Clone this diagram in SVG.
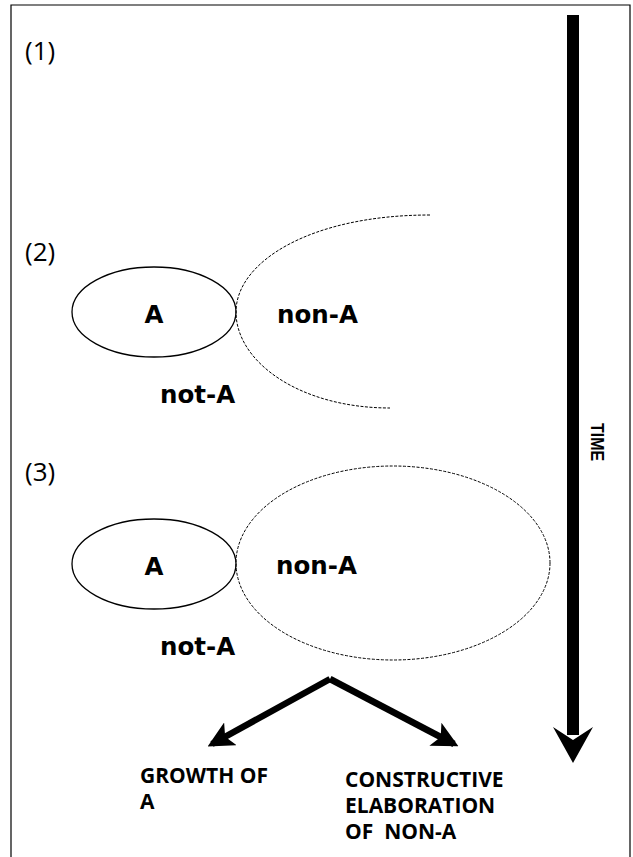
<svg xmlns="http://www.w3.org/2000/svg" width="633" height="857" viewBox="0 0 633 857">
  <style>
    .frame { fill: none; stroke: #000; stroke-width: 1.2; }
    .solid { fill: none; stroke: #000; stroke-width: 1.3; }
    .dashed { fill: none; stroke: #000; stroke-width: 1; stroke-dasharray: 3 1.5; }
    .step { font-family: "Open Sans", "Liberation Sans", sans-serif; font-size: 26px; fill: #000; }
    .lbl { font-family: "DejaVu Sans", "Liberation Sans", sans-serif; font-weight: bold; font-size: 24.5px; fill: #000; }
    .out { font-family: "Open Sans", "Liberation Sans", sans-serif; font-weight: bold; font-size: 21px; fill: #000; }
    .time { font-family: "Liberation Sans", "DejaVu Sans", sans-serif; font-weight: bold; font-size: 19px; fill: #000; }
    .thick { fill: none; stroke: #000; stroke-width: 6.5; stroke-linejoin: miter; }
  </style>
  <defs>
    <marker id="head" viewBox="0 0 26 26" refX="21" refY="13" markerWidth="26" markerHeight="26" markerUnits="userSpaceOnUse" orient="auto">
      <path d="M0,0 L26,13 L0,26 L6,13 Z" fill="#000"/>
    </marker>
  </defs>

  <rect width="633" height="857" fill="#fff"/>
  <!-- outer frame, open at the bottom -->
  <path class="frame" d="M11,857 V5 H630 V857"/>

  <!-- stage numbers -->
  <g id="stage1"><text class="step" x="25" y="60">(1)</text></g>
  <g id="stage2-label"><text class="step" x="25" y="261">(2)</text></g>
  <g id="stage3-label"><text class="step" x="25" y="481">(3)</text></g>

  <!-- stage 2 -->
  <g id="a2">
    <ellipse class="solid" cx="154" cy="312" rx="82" ry="45"/>
    <text class="lbl" x="154" y="323" text-anchor="middle">A</text>
  </g>
  <g id="nona2">
    <path class="dashed" d="M430,215 C310,215 236,262 236,312 C236,362 300,408 390,408"/>
    <text class="lbl" x="277" y="323">non-A</text>
  </g>
  <g id="nota2"><text class="lbl" x="160" y="403">not-A</text></g>

  <!-- stage 3 -->
  <g id="a3">
    <ellipse class="solid" cx="154" cy="564" rx="82" ry="45"/>
    <text class="lbl" x="154" y="575" text-anchor="middle">A</text>
  </g>
  <g id="nona3">
    <ellipse class="dashed" cx="393" cy="563" rx="157" ry="97"/>
    <text class="lbl" x="276" y="574">non-A</text>
  </g>
  <g id="nota3"><text class="lbl" x="160" y="655">not-A</text></g>

  <!-- outcomes -->
  <g id="growth">
    <text class="out" x="140" y="783">GROWTH OF</text>
    <text class="out" x="140" y="809">A</text>
  </g>
  <g id="elaboration">
    <text class="out" x="345" y="787">CONSTRUCTIVE</text>
    <text class="out" x="345" y="813">ELABORATION</text>
    <text class="out" x="345" y="839" xml:space="preserve">OF  NON-A</text>
  </g>

  <!-- time axis -->
  <g id="time">
    <rect x="567" y="15" width="12" height="720" fill="#000"/>
    <path d="M553,727 L573,763 L593,727 L573,740 Z" fill="#000"/>
    <text class="time" transform="translate(591,442) rotate(90)" text-anchor="middle" textLength="38" lengthAdjust="spacingAndGlyphs">TIME</text>
  </g>

  <!-- connectors -->
  <g id="connectors">
    <path class="thick" d="M330,679 L212,744" marker-end="url(#head)"/>
    <path class="thick" d="M330,679 L454,744" marker-end="url(#head)"/>
  </g>
</svg>
